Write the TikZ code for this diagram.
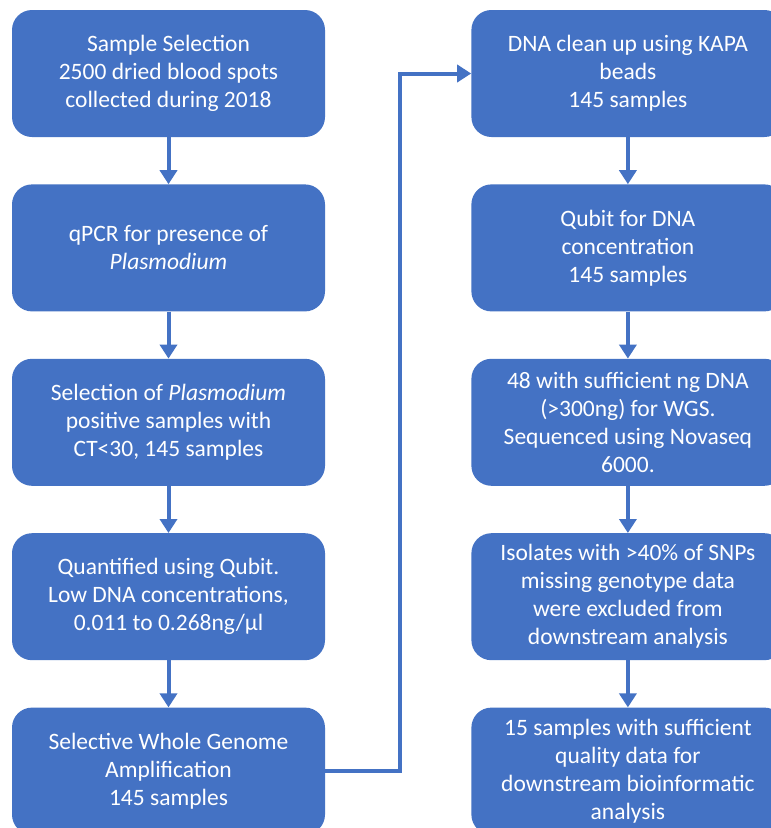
\documentclass[tikz,border=0pt]{standalone}
\usepackage{fontspec}
\setmainfont{Carlito}
\usepackage{tikz}
\usetikzlibrary{positioning,arrows.meta}
\definecolor{officeblue}{HTML}{4472C4}

\begin{document}
\begin{tikzpicture}[
x=1pt, y=1pt,
node distance=47pt and 146pt,
box/.style={fill=officeblue, rounded corners=20pt, minimum width=313pt, minimum height=127pt, align=center, text=white, font=\fontsize{23.5}{28}\selectfont},
arrow/.style={-{Triangle[width=17pt,length=14pt]}, line width=4pt, officeblue}
]
\useasboundingbox (0,0) rectangle (771,-828);
\fill[white] (0,0) rectangle (771,-828);
% left column
\node[box] (select) at (168.5,-73.5) {Sample Selection\\2500 dried blood spots\\collected during 2018};
\node[box, below=of select] (qpcr) {qPCR for presence of\\\textit{Plasmodium}};
\node[box, below=of qpcr] (positive) {Selection of \textit{Plasmodium}\\positive samples with\\CT<30, 145 samples};
\node[box, below=of positive] (qubitlow) {Quantified using Qubit.\\Low DNA concentrations,\\0.011 to 0.268ng/µl};
\node[box, below=of qubitlow] (swga) {Selective Whole Genome\\Amplification\\145 samples};
% right column
\node[box, right=of select] (kapa) {DNA clean up using KAPA\\beads\\145 samples};
\node[box, below=of kapa] (qubit) {Qubit for DNA\\concentration\\145 samples};
\node[box, below=of qubit] (wgs) {48 with sufficient ng DNA\\(>300ng) for WGS.\\Sequenced using Novaseq\\6000.};
\node[box, below=of wgs] (exclude) {Isolates with >40\% of SNPs\\missing genotype data\\were excluded from\\downstream analysis};
\node[box, below=of exclude] (final) {15 samples with sufficient\\quality data for\\downstream bioinformatic\\analysis};
\draw[arrow] (select) -- (qpcr);
\draw[arrow] (qpcr) -- (positive);
\draw[arrow] (positive) -- (qubitlow);
\draw[arrow] (qubitlow) -- (swga);
\draw[arrow] (swga.east) -- ++(75,0) |- (kapa.west);
\draw[arrow] (kapa) -- (qubit);
\draw[arrow] (qubit) -- (wgs);
\draw[arrow] (wgs) -- (exclude);
\draw[arrow] (exclude) -- (final);
\end{tikzpicture}
\end{document}
